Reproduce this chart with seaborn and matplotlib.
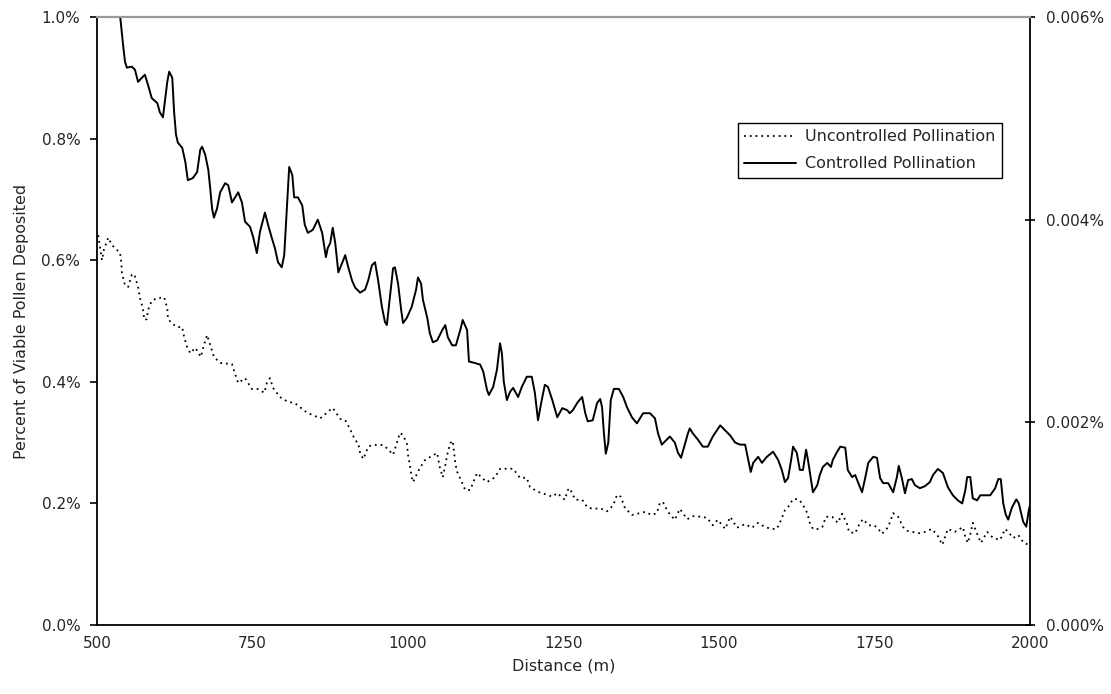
import matplotlib
matplotlib.use("Agg")
import matplotlib.pyplot as plt
import seaborn as sns
import pandas as pd
from matplotlib.ticker import FuncFormatter, MultipleLocator
from matplotlib.lines import Line2D

# ---------------- data ----------------
# Uncontrolled pollination (left axis, percent)
unc_dist = [502, 508, 511, 518, 524, 529, 537, 539, 540, 545,
            550, 556, 560, 566, 569, 574, 576, 580, 582, 588,
            597, 601, 608, 613, 614, 619, 629, 637, 640, 645,
            650, 658, 667, 672, 677, 682, 688, 698, 717, 722,
            727, 738, 749, 759, 769, 773, 778, 783, 794, 807,
            818, 838, 859, 875, 879, 891, 899, 907, 915, 920,
            923, 928, 936, 942, 952, 960, 968, 976, 982, 987,
            992, 998, 1000, 1003, 1006, 1008, 1019, 1027, 1035, 1047,
            1048, 1051, 1056, 1060, 1063, 1068, 1072, 1076, 1079, 1087,
            1092, 1100, 1111, 1119, 1127, 1135, 1140, 1148, 1169, 1180,
            1191, 1196, 1201, 1209, 1224, 1232, 1240, 1252, 1257, 1260,
            1269, 1280, 1288, 1297, 1309, 1320, 1330, 1336, 1342, 1349,
            1360, 1381, 1392, 1400, 1405, 1410, 1418, 1429, 1437, 1449,
            1458, 1473, 1481, 1490, 1498, 1510, 1518, 1529, 1542, 1553,
            1563, 1574, 1585, 1593, 1600, 1606, 1611, 1619, 1627, 1633,
            1642, 1646, 1651, 1659, 1666, 1672, 1682, 1691, 1698, 1706,
            1709, 1719, 1727, 1732, 1740, 1748, 1754, 1762, 1772, 1780,
            1788, 1796, 1802, 1812, 1822, 1831, 1842, 1851, 1859, 1868,
            1879, 1892, 1896, 1900, 1905, 1908, 1915, 1921, 1931, 1941,
            1952, 1960, 1965, 1973, 1981, 1990, 1998]
unc_val = [0.641, 0.600, 0.617, 0.637, 0.625, 0.620, 0.612, 0.597, 0.579, 0.559,
           0.556, 0.576, 0.577, 0.556, 0.538, 0.520, 0.502, 0.503, 0.518, 0.533,
           0.538, 0.538, 0.539, 0.521, 0.505, 0.497, 0.490, 0.490, 0.474, 0.457,
           0.447, 0.456, 0.441, 0.461, 0.477, 0.461, 0.441, 0.431, 0.429, 0.413,
           0.398, 0.406, 0.388, 0.388, 0.382, 0.398, 0.406, 0.390, 0.375, 0.367,
           0.365, 0.349, 0.340, 0.354, 0.357, 0.339, 0.337, 0.322, 0.304, 0.299,
           0.283, 0.273, 0.293, 0.296, 0.296, 0.296, 0.289, 0.280, 0.299, 0.316,
           0.312, 0.299, 0.280, 0.263, 0.243, 0.235, 0.258, 0.271, 0.276, 0.283,
           0.276, 0.260, 0.243, 0.263, 0.280, 0.299, 0.303, 0.266, 0.252, 0.234,
           0.222, 0.222, 0.250, 0.242, 0.235, 0.240, 0.243, 0.257, 0.257, 0.242,
           0.242, 0.227, 0.224, 0.219, 0.214, 0.211, 0.217, 0.206, 0.222, 0.225,
           0.206, 0.206, 0.194, 0.191, 0.192, 0.187, 0.197, 0.214, 0.211, 0.192,
           0.181, 0.186, 0.181, 0.184, 0.201, 0.202, 0.186, 0.173, 0.191, 0.174,
           0.179, 0.178, 0.176, 0.164, 0.173, 0.158, 0.178, 0.160, 0.166, 0.160,
           0.168, 0.161, 0.158, 0.158, 0.173, 0.189, 0.194, 0.207, 0.207, 0.201,
           0.184, 0.168, 0.158, 0.158, 0.161, 0.178, 0.178, 0.168, 0.183, 0.166,
           0.153, 0.151, 0.169, 0.174, 0.164, 0.164, 0.161, 0.150, 0.161, 0.184,
           0.178, 0.161, 0.155, 0.153, 0.151, 0.153, 0.158, 0.148, 0.132, 0.158,
           0.153, 0.161, 0.145, 0.135, 0.153, 0.168, 0.150, 0.135, 0.153, 0.143,
           0.140, 0.158, 0.153, 0.143, 0.148, 0.135, 0.132]

# Controlled pollination (right axis, in thousandths of a percent)
ctrl_dist = [500, 520, 537, 542, 545, 548, 556, 561, 566, 572,
             577, 582, 588, 597, 601, 606, 613, 616, 621, 624,
             627, 630, 637, 642, 646, 654, 661, 666, 669, 674,
             679, 682, 685, 688, 693, 698, 706, 711, 717, 722,
             727, 733, 738, 746, 751, 757, 762, 770, 775, 781,
             786, 791, 797, 801, 804, 807, 809, 814, 817, 823,
             830, 834, 839, 847, 855, 862, 868, 871, 875, 879,
             883, 888, 894, 899, 904, 910, 915, 923, 931, 936,
             942, 947, 952, 958, 963, 966, 971, 976, 979, 984,
             989, 992, 998, 1006, 1013, 1016, 1021, 1024, 1031, 1035,
             1040, 1047, 1055, 1060, 1064, 1071, 1077, 1084, 1088, 1095,
             1098, 1105, 1116, 1121, 1127, 1130, 1137, 1143, 1148, 1151,
             1154, 1159, 1164, 1169, 1177, 1183, 1191, 1199, 1204, 1209,
             1215, 1220, 1225, 1232, 1240, 1248, 1256, 1260, 1265, 1273,
             1280, 1285, 1289, 1297, 1304, 1309, 1312, 1315, 1318, 1322,
             1326, 1331, 1339, 1346, 1352, 1360, 1368, 1373, 1378, 1389,
             1397, 1402, 1408, 1416, 1421, 1429, 1434, 1439, 1444, 1450,
             1453, 1458, 1466, 1474, 1482, 1490, 1502, 1510, 1518, 1526,
             1534, 1542, 1547, 1551, 1555, 1563, 1569, 1577, 1587, 1595,
             1601, 1606, 1611, 1616, 1619, 1625, 1630, 1635, 1640, 1643,
             1648, 1651, 1658, 1662, 1667, 1674, 1680, 1683, 1690, 1695,
             1703, 1707, 1714, 1719, 1724, 1730, 1735, 1740, 1748, 1754,
             1759, 1764, 1772, 1780, 1786, 1789, 1794, 1799, 1804, 1810,
             1815, 1823, 1831, 1839, 1844, 1852, 1860, 1868, 1876, 1884,
             1891, 1896, 1899, 1904, 1908, 1915, 1920, 1928, 1936, 1944,
             1949, 1953, 1957, 1961, 1965, 1971, 1978, 1982, 1989, 1994,
             1998, 2000]
ctrl_val = [7.50, 6.60, 6.02, 5.72, 5.56, 5.50, 5.51, 5.48, 5.36, 5.40,
            5.43, 5.33, 5.20, 5.15, 5.06, 5.01, 5.36, 5.46, 5.40, 5.06,
            4.84, 4.76, 4.71, 4.57, 4.39, 4.41, 4.47, 4.69, 4.72, 4.64,
            4.49, 4.31, 4.11, 4.02, 4.11, 4.27, 4.36, 4.34, 4.17, 4.22,
            4.27, 4.17, 3.98, 3.93, 3.83, 3.67, 3.88, 4.07, 3.95, 3.82,
            3.72, 3.58, 3.53, 3.65, 3.98, 4.31, 4.52, 4.44, 4.22, 4.22,
            4.14, 3.95, 3.87, 3.90, 4.00, 3.87, 3.63, 3.72, 3.77, 3.92,
            3.77, 3.48, 3.57, 3.65, 3.53, 3.40, 3.33, 3.28, 3.31, 3.40,
            3.55, 3.58, 3.40, 3.14, 2.99, 2.96, 3.24, 3.52, 3.53, 3.37,
            3.11, 2.98, 3.03, 3.14, 3.31, 3.43, 3.37, 3.21, 3.03, 2.88,
            2.79, 2.81, 2.91, 2.96, 2.84, 2.76, 2.76, 2.91, 3.01, 2.91,
            2.60, 2.59, 2.57, 2.50, 2.32, 2.27, 2.35, 2.52, 2.78, 2.68,
            2.40, 2.22, 2.30, 2.34, 2.25, 2.35, 2.45, 2.45, 2.29, 2.02,
            2.22, 2.37, 2.35, 2.22, 2.05, 2.14, 2.12, 2.09, 2.12, 2.20,
            2.25, 2.09, 2.01, 2.02, 2.19, 2.23, 2.15, 1.89, 1.69, 1.80,
            2.22, 2.33, 2.33, 2.25, 2.15, 2.05, 1.99, 2.04, 2.09, 2.09,
            2.04, 1.89, 1.78, 1.83, 1.86, 1.80, 1.70, 1.65, 1.76, 1.89,
            1.94, 1.89, 1.83, 1.76, 1.76, 1.86, 1.97, 1.92, 1.87, 1.80,
            1.78, 1.78, 1.63, 1.51, 1.60, 1.66, 1.60, 1.66, 1.71, 1.63,
            1.53, 1.41, 1.45, 1.63, 1.76, 1.70, 1.53, 1.53, 1.73, 1.63,
            1.43, 1.31, 1.38, 1.48, 1.56, 1.60, 1.56, 1.63, 1.71, 1.76,
            1.75, 1.53, 1.46, 1.48, 1.40, 1.31, 1.45, 1.60, 1.66, 1.65,
            1.45, 1.40, 1.40, 1.31, 1.46, 1.57, 1.45, 1.30, 1.43, 1.44,
            1.38, 1.35, 1.37, 1.41, 1.48, 1.54, 1.50, 1.36, 1.28, 1.23,
            1.20, 1.33, 1.46, 1.46, 1.25, 1.23, 1.28, 1.28, 1.28, 1.35,
            1.44, 1.44, 1.20, 1.09, 1.04, 1.16, 1.24, 1.20, 1.02, 0.97,
            1.13, 1.18]

x_ticks = [500, 750, 1000, 1250, 1500, 1750, 2000]
series_names = ["Uncontrolled Pollination", "Controlled Pollination"]
x_label = "Distance (m)"
y_label = "Percent of Viable Pollen Deposited"

unc_df = pd.DataFrame({"dist": unc_dist, "val": unc_val})
ctrl_df = pd.DataFrame({"dist": ctrl_dist, "val": ctrl_val})

# ---------------- style ----------------
sns.set_style("white")
plt.rcParams['font.family'] = ['DejaVu Sans']
FS = 11.5     # labels / legend
TFS = 11      # tick labels

W, H = 1111, 694
fig = plt.figure(figsize=(W / 100, H / 100), dpi=100)
L, R, T, B = 97, 1030, 17, 625
ax = fig.add_axes([L / W, 1 - B / H, (R - L) / W, (B - T) / H])
ax2 = ax.twinx()

DOT = (0, (1, 2.2))
sns.lineplot(data=unc_df, x="dist", y="val", ax=ax, color="black",
             linewidth=1.3, linestyle=DOT, estimator=None, sort=False)
sns.lineplot(data=ctrl_df, x="dist", y="val", ax=ax2, color="black",
             linewidth=1.4, estimator=None, sort=False)

ax.set_xlim(500, 2000)
ax.set_ylim(0, 1.0)
ax2.set_ylim(0, 6)
ax.set_xticks(x_ticks)
ax.yaxis.set_major_locator(MultipleLocator(0.2))
ax2.yaxis.set_major_locator(MultipleLocator(2))
ax.yaxis.set_major_formatter(FuncFormatter(lambda v, p: f"{v:.1f}%"))
ax2.yaxis.set_major_formatter(FuncFormatter(lambda v, p: f"{v / 1000:.3f}%"))

ax.set_xlabel(x_label, fontsize=FS, labelpad=5)
ax.set_ylabel(y_label, fontsize=FS)
ax.yaxis.set_label_coords((29 - L) / (R - L), 0.5)
ax2.set_ylabel("")

for a in (ax, ax2):
    for s in a.spines.values():
        s.set_color("black")
        s.set_linewidth(1.3)
    a.spines["top"].set_color("#9a9a9a")
    a.spines["top"].set_linewidth(1.5)
ax2.spines["left"].set_visible(False)
ax2.spines["bottom"].set_visible(False)
ax.spines["right"].set_visible(False)

ax.tick_params(axis="y", direction="out", length=5, width=1.2,
               color="black", labelsize=TFS, pad=7)
ax.tick_params(axis="x", direction="out", length=4, width=1.2,
               color="black", labelsize=TFS, pad=4)
ax2.tick_params(axis="y", direction="inout", length=7, width=1.2,
                color="black", labelsize=TFS, pad=8)

handles = [Line2D([], [], color="black", lw=1.3, linestyle=DOT),
           Line2D([], [], color="black", lw=1.4)]
leg = ax2.legend(handles, series_names, loc="upper left",
                 bbox_to_anchor=((738 - L) / (R - L), (B - 123) / (B - T)),
                 frameon=True, fancybox=False, edgecolor="black",
                 framealpha=1, fontsize=FS, handlelength=3.2,
                 handletextpad=0.6, borderpad=0.4, labelspacing=0.75,
                 borderaxespad=0)
leg.get_frame().set_linewidth(1.0)

fig.savefig("out.png", dpi=100)
